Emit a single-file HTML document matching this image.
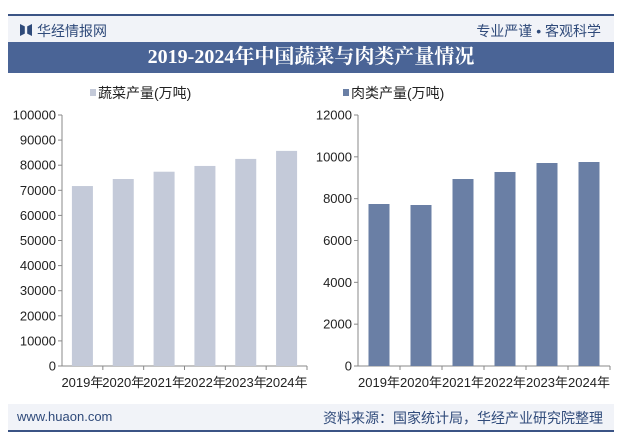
<!DOCTYPE html>
<html><head><meta charset="utf-8">
<style>
body{margin:0;width:625px;height:443px;background:#fff;font-family:"Liberation Sans","Noto Sans CJK SC",sans-serif;position:relative;overflow:hidden}
.abs{position:absolute}
</style></head><body>
<div class="abs" style="left:8px;top:14px;width:606px;height:28px;background:#f1f3f8;border-top:2px solid #3b5485;box-sizing:border-box"></div>
<div class="abs" style="left:20px;top:24px;width:12px;height:12px;background:#2f4a7a;clip-path:polygon(0 0,40% 20%,40% 80%,0 100%,0 0,100% 0,60% 20%,60% 80%,100% 100%,100% 0)"></div>
<div class="abs" style="left:37px;top:21px;font-size:14px;color:#2f4a7a">华经情报网</div>
<div class="abs" style="right:24px;top:21px;font-size:14px;color:#2f4a7a">专业严谨 • 客观科学</div>
<div class="abs" style="left:8px;top:42px;width:606px;height:31px;background:#4a6496;color:#fff;font-family:'Liberation Serif','Noto Serif CJK SC',serif;font-weight:bold;font-size:20px;text-align:center;line-height:31px">2019-2024年中国蔬菜与肉类产量情况</div>
<div class="abs" style="left:8px;top:404px;width:606px;height:28px;background:#f1f3f8;border-bottom:2px solid #3b5485;box-sizing:border-box"></div>
<div class="abs" style="left:17px;top:409px;font-size:13px;color:#2f4a7a">www.huaon.com</div>
<div class="abs" style="right:22px;top:408px;font-size:14px;color:#2f4a7a">资料来源：国家统计局，华经产业研究院整理</div>
<svg class="abs" style="left:0;top:0" width="625" height="443" id="chart"></svg>
<script>
const years=["2019年","2020年","2021年","2022年","2023年","2024年"];
const vegValues=[71700,74500,77400,79700,82500,85700];
const meatValues=[7745,7697,8940,9275,9705,9753];
const vegTicks=[0,10000,20000,30000,40000,50000,60000,70000,80000,90000,100000];
const meatTicks=[0,2000,4000,6000,8000,10000,12000];
const svg=document.getElementById('chart');const NS='http://www.w3.org/2000/svg';
function mk(t,a,txt){const e=document.createElementNS(NS,t);for(const k in a)e.setAttribute(k,a[k]);if(txt!=null)e.textContent=txt;svg.appendChild(e);return e;}
function draw(p,vals,ticks,color,legend,pre){
 const y=v=>p.y0-(v/p.max)*(p.y0-p.y1);const cw=(p.x1-p.x0)/vals.length;
 let e=mk('line',{x1:p.x0,x2:p.x0,y1:p.y1,y2:p.y0,stroke:'#888'});
 e=mk('line',{x1:p.x0,x2:p.x1,y1:p.y0,y2:p.y0,stroke:'#888'});
 ticks.forEach(t=>{mk('line',{x1:p.x0-4,x2:p.x0,y1:y(t),y2:y(t),stroke:'#888'});
  e=mk('text',{x:p.x0-6,y:y(t)+4.5,'text-anchor':'end','font-size':13,fill:'#222'},t);});
 vals.forEach((v,i)=>{const cx=p.x0+cw*(i+0.5);
  mk('line',{x1:p.x0+cw*(i+1),x2:p.x0+cw*(i+1),y1:p.y0,y2:p.y0+4,stroke:'#888'});
  e=mk('rect',{x:cx-10.5,y:y(v),width:21,height:p.y0-y(v),fill:color});
  e=mk('text',{x:cx,y:p.y0+21,'text-anchor':'middle','font-size':13,fill:'#222'},years[i]);});
 e=mk('rect',{x:p.lx,y:89,width:6,height:7,fill:color});
 e=mk('text',{x:p.lx+8,y:98,'font-size':14,fill:'#222'},legend);
}
draw({x0:62,x1:307,y0:366,y1:115,max:100000,lx:90},vegValues,vegTicks,'#c4cad9','蔬菜产量(万吨)','veg');
draw({x0:358,x1:610,y0:366,y1:115,max:12000,lx:343},meatValues,meatTicks,'#6a7fa5','肉类产量(万吨)','meat');
</script>
</body></html>
